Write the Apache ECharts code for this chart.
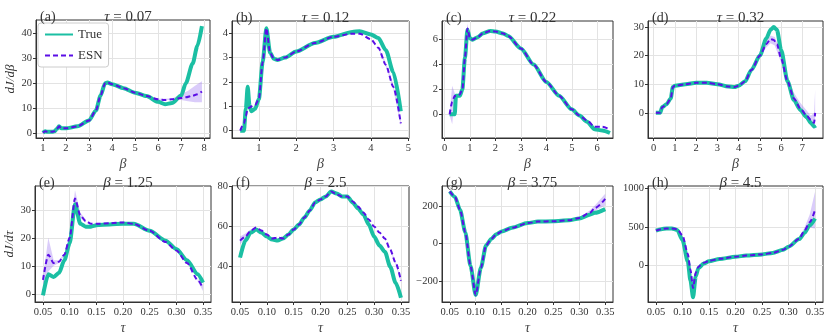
<!DOCTYPE html>
<html>
<head>
<meta charset="utf-8">
<script src="https://cdn.jsdelivr.net/npm/echarts@6/dist/echarts.min.js"></script>
<style>
  html, body { margin: 0; padding: 0; background: #fff; }
  #chart { width: 831px; height: 336px; }
</style>
</head>
<body>
<div id="chart"></div>
<script>
// band arrays: null in the x array starts a new shaded piece

// (a) tau = 0.07
const aBeta = [1.0, 1.1, 1.2, 1.4, 1.5, 1.6, 1.7, 1.8, 2.0, 2.5, 3.0, 3.3, 3.5, 3.7, 3.8, 4.0, 4.5, 5.0, 5.5, 6.0, 6.3, 6.6, 7.0, 7.2, 7.5, 7.7, 7.9];
const aTrue = [0, 0.6, 0.4, 0.4, 0.6, 1.5, 2.6, 1.8, 1.8, 2.6, 5, 9, 15, 20, 20.3, 19.6, 18, 16.2, 14.8, 12.5, 11.5, 12, 15, 20, 28, 35, 43];
const aEsn = [0, 0.6, 0.4, 0.4, 0.6, 1.5, 2.6, 1.8, 1.8, 2.6, 5, 9, 15, 20, 20.3, 19.6, 18, 16.2, 14.8, 13.5, 13.2, 13.5, 14, 14.3, 15, 15.5, 16.7];
const aBandX = [6.0, 6.6, 7.0, 7.3, 7.6, 7.9];
const aBandLo = [13.3, 13.2, 13.2, 12.7, 12.3, 12.3];
const aBandHi = [13.7, 13.8, 15.5, 17, 19, 20.8];

// (b) tau = 0.12
const bBeta = [0.5, 0.6, 0.65, 0.7, 0.75, 0.8, 0.9, 1.0, 1.1, 1.2, 1.3, 1.4, 1.5, 1.7, 2.0, 2.5, 3.0, 3.5, 3.7, 4.0, 4.2, 4.4, 4.6, 4.8];
const bTrue = [0, 0, 0.9, 1.8, 1.0, 0.8, 0.9, 1.3, 2.8, 4.2, 3.2, 2.95, 2.9, 3.0, 3.25, 3.6, 3.85, 4.05, 4.08, 3.95, 3.8, 3.3, 2.4, 0.8];
const bEsn = [0, 0.3, 0.6, 0.9, 0.95, 1.0, 1.05, 1.3, 2.8, 4.2, 3.2, 2.95, 2.9, 3.0, 3.25, 3.6, 3.85, 3.98, 3.98, 3.75, 3.4, 2.7, 1.8, 0.3];
const bBandX = [4.2, 4.4, 4.6, 4.8];
const bBandLo = [3.35, 2.62, 1.7, 0.2];
const bBandHi = [3.45, 2.8, 1.9, 0.45];

// (c) tau = 0.22
const cBeta = [0.2, 0.3, 0.4, 0.45, 0.6, 0.7, 0.8, 0.9, 1.0, 1.1, 1.3, 1.5, 1.8, 2.0, 2.3, 2.5, 3.0, 3.5, 4.0, 4.5, 5.0, 5.3, 5.6, 5.9, 6.2, 6.5];
const cTrue = [0, 0, 0, 1.5, 1.5, 2.0, 4.5, 6.8, 6.1, 6.0, 6.2, 6.5, 6.7, 6.65, 6.5, 6.3, 5.3, 4.0, 2.6, 1.5, 0.4, -0.1, -0.6, -1.2, -1.3, -1.5];
const cEsn = [0, 1.0, 1.5, 1.45, 1.6, 2.0, 4.5, 6.9, 6.1, 6.0, 6.2, 6.5, 6.7, 6.65, 6.5, 6.3, 5.3, 4.0, 2.6, 1.5, 0.4, -0.1, -0.5, -1.0, -1.0, -1.2];
const cBandX = [0.2, 0.3, 0.4, null, 0.8, 0.9, 1.0];
const cBandLo = [-0.1, -0.8, 1.2, null, 4.3, 6.5, 6.0];
const cBandHi = [0.1, 2.3, 1.7, null, 4.7, 7.3, 6.2];

// (d) tau = 0.32
const dBeta = [0.1, 0.3, 0.4, 0.6, 0.8, 0.9, 1.0, 1.5, 2.0, 2.5, 3.0, 3.5, 3.8, 4.0, 4.3, 4.6, 5.0, 5.3, 5.5, 5.65, 5.8, 6.0, 6.3, 6.6, 6.9, 7.2, 7.4, 7.55, 7.6];
const dTrue = [0, 0, 2, 3, 5, 9, 9.5, 10, 10.5, 10.5, 10, 9.2, 9, 9.5, 11, 15, 20, 26, 29, 30, 29, 22, 11, 4.5, 1, -1.5, -3.5, -4.7, -5.3];
const dEsn = [0, 0, 2, 3, 5, 9, 9.5, 10, 10.5, 10.5, 10, 9.2, 9, 9.5, 11, 15, 20, 24, 25.8, 25.5, 24, 19, 11, 5, 1.5, -1, -2.5, -3.5, 0];
const dBandX = [5.0, 5.3, 5.5, 5.7, 6.0, 6.3, 6.6, 6.9, 7.2, 7.4, 7.55, 7.6];
const dBandLo = [19.5, 22.8, 24.3, 23.5, 17.5, 9.5, 3.5, 0, -2.2, -3.8, -5, -6];
const dBandHi = [20.5, 25.3, 27, 26.5, 21, 13, 7, 3.5, 0.8, -1, 0, 8];

// (e) beta = 1.25
const eTau = [0.05, 0.06, 0.07, 0.08, 0.09, 0.10, 0.11, 0.12, 0.13, 0.14, 0.15, 0.175, 0.2, 0.22, 0.25, 0.28, 0.30, 0.32, 0.34, 0.35];
const eTrue = [-0.5, 7, 6, 7.5, 12, 18, 32, 25, 24, 24, 24.5, 24.8, 25, 25, 22.5, 19, 16, 12, 7, 4];
const eEsn = [5, 14, 11, 11.5, 14, 20, 34, 28, 26, 25, 25, 25.2, 25.5, 25, 22.5, 18.5, 15.5, 11, 5, 2];
const eBandX = [0.05, 0.06, 0.07, 0.08, 0.09, 0.10, 0.11, 0.12, 0.13, null, 0.34, 0.35];
const eBandLo = [3, 8, 10, 11, 13.5, 19, 31, 27, 25.5, null, 4.5, 1];
const eBandHi = [6, 20, 12, 12, 14.5, 21, 37, 29, 26.5, null, 5.5, 3];

// (f) beta = 2.5
const fTau = [0.05, 0.06, 0.07, 0.08, 0.09, 0.10, 0.11, 0.12, 0.13, 0.14, 0.15, 0.16, 0.17, 0.18, 0.19, 0.20, 0.21, 0.22, 0.23, 0.24, 0.25, 0.26, 0.27, 0.28, 0.29, 0.30, 0.31, 0.32, 0.33, 0.34, 0.35];
const fTrue = [44.5, 53, 57, 58.5, 57, 55, 53.5, 53, 54, 56, 58.5, 61, 64.5, 68, 72, 73.5, 75, 77.5, 76.5, 75, 75, 72, 69, 66, 61, 55, 50.5, 47.5, 40, 32, 24.5];
const fEsn = [53, 55, 58, 59.5, 58, 56, 54, 54.5, 54, 56, 58.5, 61, 64.5, 68, 72, 73.5, 75, 77.5, 76, 75, 75, 72.5, 70, 67, 63.5, 60, 57, 54, 48.5, 42, 33];
const fBandX = [0.05, 0.06, 0.07, null, 0.33, 0.34, 0.35];
const fBandLo = [51, 54, 57.3, null, 48, 41.3, 32];
const fBandHi = [55, 56.5, 58.7, null, 49, 42.7, 34];

// (g) beta = 3.75
const gTau = [0.05, 0.06, 0.07, 0.08, 0.09, 0.10, 0.11, 0.12, 0.13, 0.14, 0.15, 0.17, 0.20, 0.22, 0.25, 0.28, 0.30, 0.32, 0.33, 0.35];
const gTrue = [280, 250, 180, 60, -120, -275, -130, -10, 25, 50, 65, 85, 110, 118, 120, 125, 135, 155, 165, 185];
const gEsn = [280, 250, 180, 60, -120, -275, -130, -10, 25, 50, 65, 85, 110, 118, 120, 125, 138, 165, 190, 240];
const gBandX = [0.30, 0.32, 0.33, 0.35];
const gBandLo = [133, 155, 175, 205];
const gBandHi = [142, 178, 205, 268];

// (h) beta = 4.5
const hTau = [0.05, 0.06, 0.07, 0.08, 0.09, 0.10, 0.11, 0.115, 0.12, 0.125, 0.13, 0.14, 0.15, 0.17, 0.20, 0.22, 0.25, 0.27, 0.29, 0.30, 0.32, 0.33, 0.34, 0.35];
const hTrue = [450, 470, 480, 480, 460, 330, 50, -200, -420, -150, -40, 20, 50, 80, 110, 125, 140, 160, 200, 240, 340, 420, 520, 610];
const hEsn = [450, 470, 480, 480, 470, 390, 150, -60, -300, -100, -20, 30, 55, 82, 110, 125, 140, 160, 200, 240, 345, 450, 560, 720];
const hBandX = [0.30, 0.32, 0.33, 0.34, 0.35];
const hBandLo = [235, 325, 410, 490, 480];
const hBandHi = [245, 365, 490, 660, 960];

const betaTicksA = [1, 2, 3, 4, 5, 6, 7, 8];
const betaTicksB = [1, 2, 3, 4, 5];
const betaTicksC = [0, 1, 2, 3, 4, 5, 6];
const betaTicksD = [0, 1, 2, 3, 4, 5, 6, 7];
const tauTicks = [0.05, 0.10, 0.15, 0.20, 0.25, 0.30, 0.35];

const TEAL = '#1bbfa3';
const PURPLE = '#5b0ee6';
const FONT = 'Liberation Serif';

const panels = [
  { tag: '(a)', sym: 'τ', val: '0.07', x: aBeta, t: aTrue, e: aEsn, bx: aBandX, lo: aBandLo, hi: aBandHi,
    grid: [36, 20, 174, 118], xr: [0.7, 8.25], xt: betaTicksA, yr: [-2.1, 45.5], yt: [0, 10, 20, 30, 40], xname: 'β', yname: 'dJ/dβ' },
  { tag: '(b)', sym: 'τ', val: '0.12', x: bBeta, t: bTrue, e: bEsn, bx: bBandX, lo: bBandLo, hi: bBandHi,
    grid: [232, 21, 177, 117], xr: [0.28, 5.02], xt: betaTicksB, yr: [-0.3, 4.5], yt: [0, 1, 2, 3, 4], xname: 'β' },
  { tag: '(c)', sym: 'τ', val: '0.22', x: cBeta, t: cTrue, e: cEsn, bx: cBandX, lo: cBandLo, hi: cBandHi,
    grid: [442, 21, 171, 117], xr: [-0.1, 6.62], xt: betaTicksC, yr: [-1.9, 7.5], yt: [0, 2, 4, 6], xname: 'β' },
  { tag: '(d)', sym: 'τ', val: '0.32', x: dBeta, t: dTrue, e: dEsn, bx: dBandX, lo: dBandLo, hi: dBandHi,
    grid: [648, 21, 175, 117], xr: [-0.27, 7.97], xt: betaTicksD, yr: [-8.8, 32.1], yt: [0, 10, 20, 30], xname: 'β' },
  { tag: '(e)', sym: 'β', val: '1.25', x: eTau, t: eTrue, e: eEsn, bx: eBandX, lo: eBandLo, hi: eBandHi,
    grid: [35, 186, 176, 117], xr: [0.035, 0.365], xt: tauTicks, yr: [-2.9, 38.5], yt: [0, 10, 20, 30], xname: 'τ', yname: 'dJ/dτ' },
  { tag: '(f)', sym: 'β', val: '2.5', x: fTau, t: fTrue, e: fEsn, bx: fBandX, lo: fBandLo, hi: fBandHi,
    grid: [232, 186, 177, 117], xr: [0.035, 0.365], xt: tauTicks, yr: [22.4, 80.2], yt: [40, 60, 80], xname: 'τ' },
  { tag: '(g)', sym: 'β', val: '3.75', x: gTau, t: gTrue, e: gEsn, bx: gBandX, lo: gBandLo, hi: gBandHi,
    grid: [442, 186, 171, 117], xr: [0.035, 0.365], xt: tauTicks, yr: [-313, 309], yt: [-200, 0, 200], xname: 'τ' },
  { tag: '(h)', sym: 'β', val: '4.5', x: hTau, t: hTrue, e: hEsn, bx: hBandX, lo: hBandLo, hi: hBandHi,
    grid: [648, 186, 175, 117], xr: [0.035, 0.365], xt: tauTicks, yr: [-482, 1034], yt: [0, 500, 1000], xname: 'τ' }
];

const zip = (xs, ys) => xs.map((v, i) => [v, ys[i]]);

// split band arrays at null into pieces of [x, lo, hi]
function bandPieces(p) {
  const pieces = [[]];
  p.bx.forEach((v, k) => {
    if (v === null) pieces.push([]);
    else pieces[pieces.length - 1].push([v, p.lo[k], p.hi[k]]);
  });
  return pieces.filter(pc => pc.length > 1);
}

const grids = [], xAxes = [], yAxes = [], series = [], titles = [];

panels.forEach((p, i) => {
  const [left, top, w, h] = p.grid;
  grids.push({ left: left, top: top, width: w, height: h, show: true, borderColor: '#333', borderWidth: 1, backgroundColor: 'transparent' });

  xAxes.push({
    type: 'value', gridIndex: i, min: p.xr[0], max: p.xr[1],
    name: p.xname, nameLocation: 'middle', nameGap: 19,
    nameTextStyle: { fontFamily: FONT, fontStyle: 'italic', fontSize: 14, color: '#444' },
    axisLine: { show: true, onZero: false, lineStyle: { color: '#333' } },
    axisTick: { show: true, length: 3, customValues: p.xt, lineStyle: { color: '#333' } },
    axisLabel: { customValues: p.xt, margin: 5, fontFamily: FONT, fontSize: 10.5, color: '#333',
      formatter: v => (i >= 4 ? v.toFixed(2) : String(v)) },
    splitLine: { show: true, lineStyle: { color: '#e3e3e3', width: 1 } }
  });

  yAxes.push({
    type: 'value', gridIndex: i, min: p.yr[0], max: p.yr[1],
    name: p.yname || '', nameLocation: 'middle', nameGap: 19, nameRotate: 90,
    nameTextStyle: { fontFamily: FONT, fontStyle: 'italic', fontSize: 13, color: '#333' },
    axisLine: { show: true, onZero: false, lineStyle: { color: '#333' } },
    axisTick: { show: true, length: 3, customValues: p.yt, lineStyle: { color: '#333' } },
    axisLabel: { customValues: p.yt, margin: 4, fontFamily: FONT, fontSize: 10.5, color: '#333',
      formatter: v => (v < 0 ? '\u2212' + Math.abs(v) : String(v)) },
    splitLine: { show: true, lineStyle: { color: '#e3e3e3', width: 1 } }
  });

  const pieces = bandPieces(p);
  series.push({
    type: 'custom', xAxisIndex: i, yAxisIndex: i, silent: true, z: 1,
    renderItem: (params, api) => {
      const pc = pieces[params.dataIndex];
      const up = pc.map(r => api.coord([r[0], r[2]]));
      const down = pc.map(r => api.coord([r[0], r[1]])).reverse();
      return { type: 'polygon', shape: { points: up.concat(down) },
        style: { fill: 'rgba(150, 110, 240, 0.35)' } };
    },
    encode: { x: 0, y: [1, 2] },
    data: pieces.map(pc => [pc[0][0], pc[0][1], pc[0][2]])
  });
  series.push({
    name: 'True', type: 'line', xAxisIndex: i, yAxisIndex: i, symbol: 'none',
    smooth: 0.25, smoothMonotone: 'x',
    lineStyle: { color: TEAL, width: 4 }, itemStyle: { color: TEAL },
    data: zip(p.x, p.t), z: 2
  });
  series.push({
    name: 'ESN', type: 'line', xAxisIndex: i, yAxisIndex: i, symbol: 'none',
    smooth: 0.25, smoothMonotone: 'x',
    lineStyle: { color: PURPLE, width: 2, type: [5, 3] }, itemStyle: { color: PURPLE },
    data: zip(p.x, p.e), z: 3
  });

  titles.push({
    text: p.tag, left: left - 1, top: top - 15,
    textStyle: { fontFamily: FONT, fontSize: 14, fontWeight: 'normal', color: '#333' }
  });
  titles.push({
    text: '{i|' + p.sym + '} = ' + p.val, left: left + w / 2, top: top - 15, textAlign: 'center',
    textStyle: { fontFamily: FONT, fontSize: 15, fontWeight: 'normal', color: '#333',
      rich: { i: { fontFamily: FONT, fontStyle: 'italic', fontSize: 15, color: '#333' } } }
  });
});

const chart = echarts.init(document.getElementById('chart'), null, { renderer: 'canvas' });
chart.setOption({
  animation: false,
  backgroundColor: '#fff',
  title: titles,
  legend: {
    data: ['True', 'ESN'], orient: 'vertical', left: 38, top: 23,
    itemWidth: 28, itemHeight: 10, itemGap: 8,
    padding: [5, 6, 5, 6],
    itemStyle: { opacity: 0 },
    backgroundColor: '#fff', borderColor: '#ccc', borderWidth: 1, borderRadius: 3,
    textStyle: { fontFamily: FONT, fontSize: 13, color: '#333' }
  },
  grid: grids,
  xAxis: xAxes,
  yAxis: yAxes,
  series: series
});
</script>
</body>
</html>
